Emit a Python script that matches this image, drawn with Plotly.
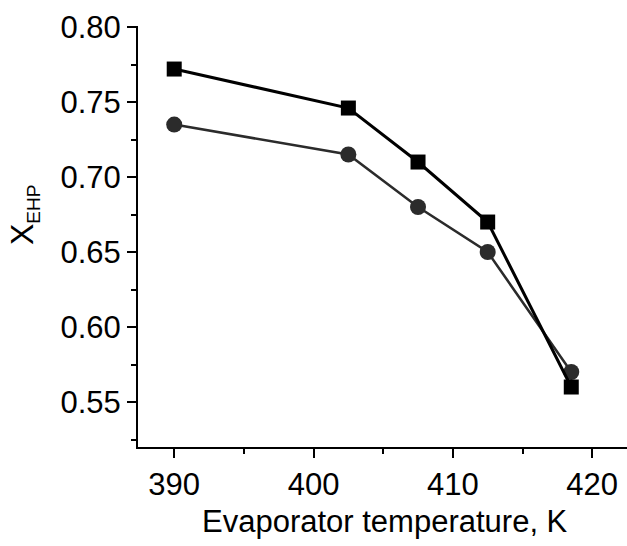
import plotly.graph_objects as go

temperature_K = [390, 402.5, 407.5, 412.5, 418.5]
x_ehp_squares = [0.772, 0.746, 0.710, 0.670, 0.560]
x_ehp_circles = [0.735, 0.715, 0.680, 0.650, 0.570]

FONT = "Arial, 'Liberation Sans', sans-serif"

fig = go.Figure()
fig.add_trace(go.Scatter(
    x=temperature_K, y=x_ehp_circles, mode="lines+markers",
    line=dict(color="#2b2b2b", width=2.5),
    marker=dict(symbol="circle", size=16, color="#2b2b2b"),
    showlegend=False, cliponaxis=False))
fig.add_trace(go.Scatter(
    x=temperature_K, y=x_ehp_squares, mode="lines+markers",
    line=dict(color="black", width=3),
    marker=dict(symbol="square", size=15, color="black"),
    showlegend=False, cliponaxis=False))

axis_common = dict(
    showline=True, linecolor="black", linewidth=2,
    ticks="outside", ticklen=9, tickwidth=2, tickcolor="black",
    showgrid=False, zeroline=False, mirror=False, automargin=False,
    tickfont=dict(family=FONT, size=31, color="black"),
)

fig.update_xaxes(range=[387.4, 422.5], dtick=10, tick0=390,
                 minor=dict(dtick=5, ticks="outside", ticklen=5, tickwidth=2, tickcolor="black"),
                 **axis_common)
fig.update_yaxes(range=[0.52, 0.8007], dtick=0.05, tick0=0.55, tickformat=".2f",
                 minor=dict(dtick=0.025, ticks="outside", ticklen=5, tickwidth=2, tickcolor="black"),
                 **axis_common)

fig.add_annotation(text="Evaporator temperature, K", xref="paper", yref="paper",
                   x=0.506, y=-0.178, xanchor="center", yanchor="middle", showarrow=False,
                   font=dict(family=FONT, size=31, color="black"))
fig.add_annotation(text="X<sub><span style=\"font-size:19px\">EHP</span></sub>",
                   xref="paper", yref="paper",
                   x=-0.232, y=0.55, xanchor="center", yanchor="middle", showarrow=False,
                   textangle=-90, font=dict(family=FONT, size=32, color="black"))

fig.update_layout(
    width=627, height=546,
    margin=dict(l=138, r=0, t=26, b=99),
    plot_bgcolor="white", paper_bgcolor="white",
)

fig.write_html("out.html", config={"displayModeBar": False},
               post_script="document.body.style.margin='0';document.body.style.overflow='hidden';")
